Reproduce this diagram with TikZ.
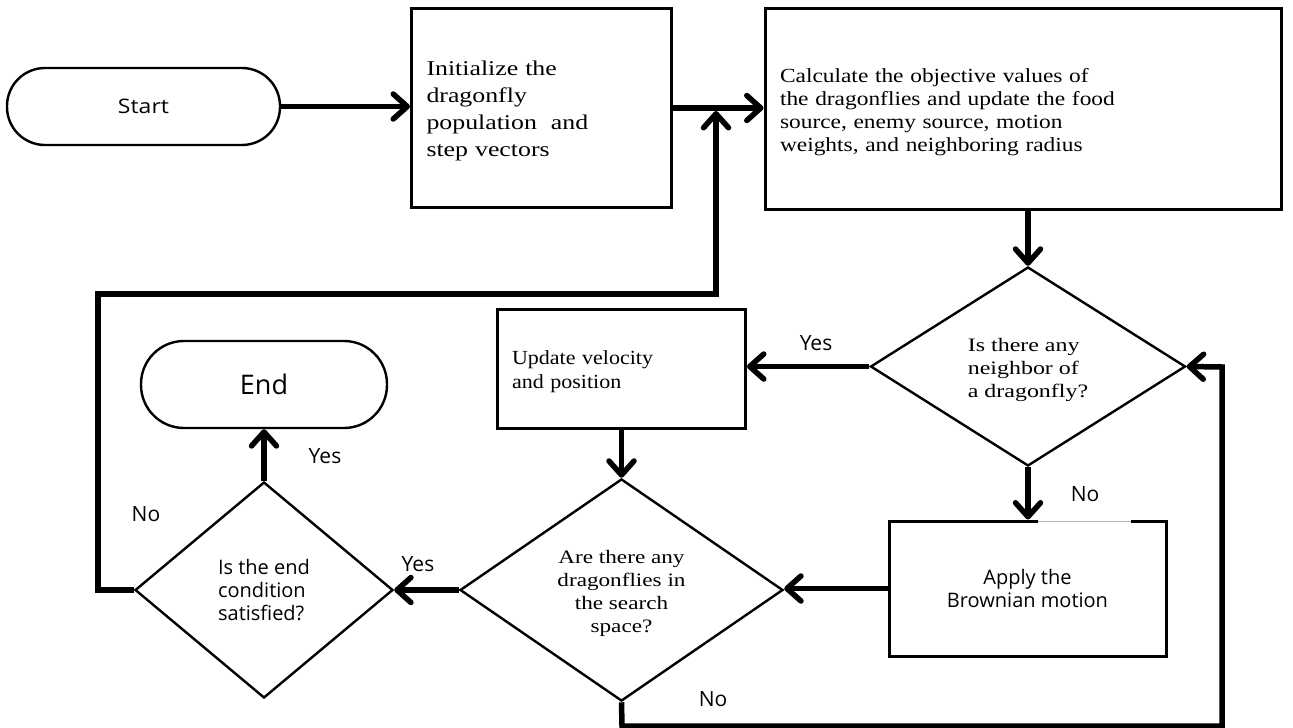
\documentclass[tikz,border=0pt]{standalone}
\usepackage{fontspec}
\setmainfont{Liberation Serif}
\newfontfamily\serA[FakeStretch=1.23]{Liberation Serif}
\newfontfamily\serB[FakeStretch=1.22]{Liberation Serif}
\newfontfamily\serD[FakeStretch=1.26]{Liberation Serif}
\newfontfamily\serC[FakeStretch=1.17]{Liberation Serif}
\newfontfamily\serE[FakeStretch=1.1]{Liberation Serif}
\newfontfamily\osans{Open Sans}
\newfontfamily\osansW[FakeStretch=1.15]{Open Sans}
\usetikzlibrary{shapes.geometric,arrows.meta}
\tikzset{
  box/.style={draw, rectangle, line width=3pt, inner sep=0pt},
  term/.style={draw, rectangle, line width=2.4pt, inner sep=0pt},
  dec/.style={draw, diamond, line width=2.4pt, inner sep=0pt, align=center},
  flow/.style={line width=5.5pt, line join=miter,
    -{Straight Barb[length=14pt,width=25pt,line cap=round,line join=round]}},
  lbl/.style={inner sep=0pt, font=\osans\fontsize{21}{24}\selectfont}
}
\begin{document}
\begin{tikzpicture}[x=1pt,y=-1pt]
\useasboundingbox (0,0) rectangle (1293,728);

% terminals
\node[term, rounded corners=38pt, minimum width=273pt, minimum height=77pt,
      font=\osansW\fontsize{20}{24}\selectfont] (start) at (143.5,106.5) {Start};
\node[term, rounded corners=43pt, minimum width=246pt, minimum height=87pt,
      font=\osans\fontsize{27}{30}\selectfont] (end) at (264,384.5) {End};

% process boxes
\node[box, minimum width=260pt, minimum height=199pt, text width=230pt, align=left,
      font=\serA\fontsize{21}{27}\selectfont] (init) at (541.5,108)
      {\rule{0pt}{19.5pt}Initialize the\\dragonfly\\population\ \ and\\step vectors};
\node[box, minimum width=516pt, minimum height=201pt, text width=486pt, align=left,
      font=\serC\fontsize{20}{23}\selectfont] (calc) at (1023,108.5)
      {\rule{0pt}{21pt}Calculate the objective values of\\the dragonflies and update the food\\source, enemy source, motion\\weights, and neighboring radius};
\node[box, minimum width=248pt, minimum height=119pt, text width=219pt, align=left,
      font=\serE\fontsize{20}{24}\selectfont] (update) at (621.5,368.5)
      {\rule{0pt}{20.5pt}Update velocity\\and position};
\node[box, minimum width=277pt, minimum height=135pt, align=center,
      font=\osans\fontsize{20}{22.5}\selectfont] (brown) at (1027.5,588.5)
      {Apply the\\Brownian motion};

% decisions
\node[dec, minimum width=315pt, minimum height=199pt, align=left,
      font=\serD\fontsize{19}{23}\selectfont] (d1) at (1028,366.5)
      {\rule{0pt}{20pt}Is there any\\neighbor of\\a dragonfly?};
\node[dec, minimum width=323pt, minimum height=216pt,
      font=\serB\fontsize{19}{23}\selectfont] (d2) at (621.5,590)
      {\rule{0pt}{21pt}Are there any\\dragonflies in\\the search\\space?};
\node[dec, minimum width=258pt, minimum height=216pt, align=left,
      font=\osans\fontsize{20}{23}\selectfont] (d3) at (264,590)
      {Is the end\\condition\\satisfied?};

% light gap on the top edge of the Brownian box
\draw[white, line width=3.4pt] (1038,521) -- (1131,521);
\draw[gray!60, line width=0.8pt] (1038,521) -- (1131,521);

% helper coordinates
\coordinate (fbA) at (98,294);
\coordinate (fbB) at (716,294);
\coordinate (fbC) at (716,111);
\coordinate (lpA) at (622,726);
\coordinate (lpB) at (1222,726);
\coordinate (lpC) at (1222,367);

% connectors
\draw[flow] (start.east) -- (start.east -| init.west);
\draw[flow] (init.east) -- (init.east -| calc.west);
\draw[flow] (d3.west) -| (fbA) -- (fbB) -- (fbC);
\draw[flow] (d1.north |- calc.south) -- (d1.north);
\draw[flow] (d1.west) -- (d1.west -| update.east);
\draw[flow] (d1.south) -- (d1.south |- brown.north);
\draw[flow] (update.south) -- (d2.north);
\draw[flow] (brown.west) -- (brown.west -| d2.east);
\draw[flow] (d2.west) -- (d3.east);
\draw[flow] (d3.north) -- (end.south);
\draw[flow] (d2.south) -- (lpA) -- (lpB) -- (lpC) -- (d1.east);

% labels
\node[lbl] (yes1) at (816,343) {Yes};
\node[lbl] (no1) at (1085,494) {No};
\node[lbl] (yes2) at (418,564) {Yes};
\node[lbl] (no2) at (713,699) {No};
\node[lbl] (yes3) at (325,456) {Yes};
\node[lbl] (no3) at (146,514) {No};
\end{tikzpicture}
\end{document}
